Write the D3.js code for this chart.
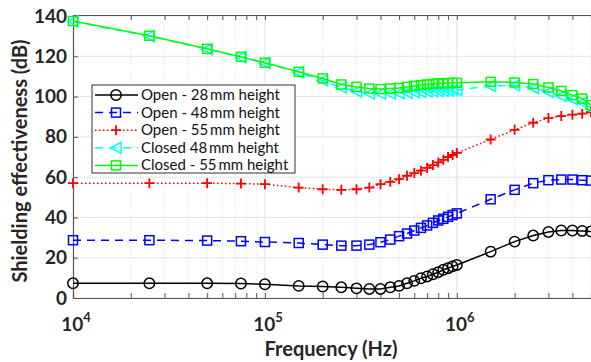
<!DOCTYPE html>
<html>
<head>
<meta charset="utf-8">
<script src="https://cdn.jsdelivr.net/npm/d3@7"></script>
<style>
  body { margin: 0; background: #fff; }
  svg { display: block; font-family: Lato, "Open Sans", sans-serif; }
</style>
</head>
<body>
<svg id="chart" width="591" height="362"></svg>
<script>
// frequencies (Hz)
const freqs = [1e4, 2.5e4, 5e4, 7.5e4, 1e5, 1.5e5, 2e5, 2.5e5, 3e5, 3.5e5, 4e5, 4.5e5, 5e5, 5.5e5, 6e5,
  6.5e5, 7e5, 7.5e5, 8e5, 8.5e5, 9e5, 9.5e5, 1e6, 1.5e6, 2e6, 2.5e6, 3e6, 3.5e6, 4e6, 4.5e6, 5e6];

// shielding effectiveness (dB)
const open28 = [7.3, 7.3, 7.3, 7.2, 6.8, 6.0, 5.7, 5.3, 4.8, 4.5, 4.5, 5.3, 6.0, 7.3, 8.5,
  9.8, 10.7, 11.8, 12.8, 14.0, 14.8, 15.7, 16.4, 23.0, 28.0, 31.0, 32.8, 33.5, 33.5, 33.3, 33.0];
const open48 = [28.7, 28.7, 28.5, 28.2, 27.8, 27.3, 26.5, 26.0, 26.0, 26.5, 27.7, 29.0, 30.7, 32.0, 33.5,
  34.8, 36.0, 37.3, 38.5, 39.3, 40.3, 41.2, 42.0, 49.0, 53.7, 57.0, 58.5, 58.8, 58.8, 58.5, 58.3];
const open55 = [57.0, 57.0, 57.0, 56.8, 56.5, 54.8, 54.0, 53.7, 54.0, 54.8, 56.5, 57.7, 59.0, 60.7, 62.0,
  63.2, 64.6, 66.0, 67.3, 68.6, 70.0, 71.0, 72.0, 78.7, 83.5, 87.0, 89.3, 90.3, 91.0, 91.5, 92.3];
const closed48 = [137.3, 130.0, 123.5, 119.5, 116.6, 112.0, 108.0, 104.5, 102.5, 101.5, 101.5, 101.5, 101.7, 101.9, 102.1,
  102.3, 102.5, 102.6, 102.8, 102.9, 103.0, 103.1, 103.2, 105.3, 105.6, 104.3, 102.3, 100.3, 98.7, 97.0, 94.0];
const closed55 = [137.5, 130.2, 123.7, 119.7, 116.8, 112.3, 109.0, 106.0, 104.8, 104.0, 103.7, 104.0, 104.3, 104.8, 105.3,
  105.7, 106.0, 106.3, 106.5, 106.6, 106.7, 106.8, 106.8, 107.3, 107.0, 106.2, 104.5, 102.8, 100.7, 99.0, 95.7];

const seriesNames = ["Open - 28\u2009mm height", "Open - 48\u2009mm height", "Open - 55\u2009mm height",
  "Closed 48\u2009mm height", "Closed - 55\u2009mm height"];

const yTicks = [0, 20, 40, 60, 80, 100, 120, 140];
const xTicks = [1e4, 1e5, 1e6];

const series = [
  { name: seriesNames[0], values: open28, color: "#000000", dash: null, marker: "circle" },
  { name: seriesNames[1], values: open48, color: "#0000ff", dash: "8,6", marker: "square" },
  { name: seriesNames[2], values: open55, color: "#ff0000", dash: "1.5,2.5", marker: "plus" },
  { name: seriesNames[3], values: closed48, color: "#00ffff", dash: "8,6", marker: "triangle" },
  { name: seriesNames[4], values: closed55, color: "#00ff00", dash: null, marker: "square" }
];

const svg = d3.select("#chart");
const margin = { left: 73, right: 0, top: 16, bottom: 64 };
const W = 591, H = 362;

const x = d3.scaleLog().domain([1e4, 5e6]).range([margin.left, W - margin.right]);
const y = d3.scaleLinear().domain([0, 140]).range([H - margin.bottom, margin.top]);

const plot = svg.append("g");
const textColor = "#262626";

// minor vertical grid
const minor = [];
for (let d = 1e4; d < 5e6; d *= 10) {
  for (let k = 2; k <= 9; k++) if (d * k <= 5e6) minor.push(d * k);
}
plot.append("g").selectAll("line").data(minor).join("line")
  .attr("x1", d => x(d)).attr("x2", d => x(d))
  .attr("y1", y(0)).attr("y2", y(140) - 1)
  .attr("stroke", "#d8d8d8").attr("stroke-width", 0.8).attr("stroke-dasharray", "1,2");

// major grid
plot.append("g").selectAll("line").data(yTicks).join("line")
  .attr("x1", x(1e4)).attr("x2", W)
  .attr("y1", d => y(d)).attr("y2", d => y(d))
  .attr("stroke", "#e3e3e3").attr("stroke-width", 1);
plot.append("g").selectAll("line").data(xTicks.slice(1)).join("line")
  .attr("x1", d => x(d)).attr("x2", d => x(d))
  .attr("y1", y(0)).attr("y2", y(140))
  .attr("stroke", "#e3e3e3").attr("stroke-width", 1);

// axes box
const yAxis = d3.axisLeft(y).tickValues(yTicks).tickSize(-5).tickPadding(6).tickFormat(d3.format("d"));
const gy = svg.append("g").attr("transform", `translate(${x(1e4)},0)`).call(yAxis);
const xAxis = d3.axisBottom(x).tickValues(minor.concat(xTicks)).tickSize(-5).tickFormat("");
const gx = svg.append("g").attr("transform", `translate(0,${y(0)})`).call(xAxis);
const gTop = svg.append("g").attr("transform", `translate(0,${y(140) - 1})`)
  .call(d3.axisTop(x).tickValues(minor.concat(xTicks)).tickSize(-5).tickFormat(""));
[gy, gx, gTop].forEach(g => {
  g.selectAll("path").attr("stroke", "#555").attr("stroke-width", 1.2);
  g.selectAll(".tick line").attr("stroke", "#555");
});
gy.selectAll(".tick text").attr("fill", textColor).attr("font-size", 19).attr("font-weight", "bold")
  .attr("font-family", "Lato, sans-serif");

// x tick labels 10^n
const xl = svg.append("g");
xTicks.forEach(v => {
  const t = xl.append("text").attr("x", x(v) + 3).attr("y", y(0) + 33)
    .attr("text-anchor", "middle").attr("fill", textColor).attr("font-size", 19).attr("font-weight", "bold");
  t.append("tspan").text("10");
  t.append("tspan").attr("dy", -9).attr("font-size", 13).text(Math.round(Math.log10(v)));
});

// axis titles
svg.append("text").attr("x", 331).attr("y", 356).attr("text-anchor", "middle")
  .attr("fill", textColor).attr("font-size", 20).attr("font-weight", "bold").text("Frequency (Hz)");
svg.append("text").attr("transform", `translate(27,161) rotate(-90)`)
  .attr("text-anchor", "middle").attr("fill", textColor).attr("font-size", 20).attr("font-weight", "bold")
  .text("Shielding effectiveness  (dB)");

// markers
function drawMarker(g, type, color, cx, cy) {
  if (type === "circle") {
    g.append("circle").attr("cx", cx).attr("cy", cy).attr("r", 5.2)
      .attr("fill", "none").attr("stroke", color).attr("stroke-width", 1.5);
  } else if (type === "square") {
    g.append("rect").attr("x", cx - 4.5).attr("y", cy - 4.5).attr("width", 9).attr("height", 9)
      .attr("fill", "none").attr("stroke", color).attr("stroke-width", 1.5);
  } else if (type === "plus") {
    g.append("path").attr("d", `M${cx - 5},${cy}H${cx + 5}M${cx},${cy - 5}V${cy + 5}`)
      .attr("stroke", color).attr("stroke-width", 1.8);
  } else if (type === "triangle") {
    g.append("path").attr("d", `M${cx - 5.5},${cy}L${cx + 5},${cy - 5.5}L${cx + 5},${cy + 5.5}Z`)
      .attr("fill", "none").attr("stroke", color).attr("stroke-width", 1.5);
  }
}

svg.append("clipPath").attr("id", "clip").append("rect")
  .attr("x", x(1e4) - 8).attr("y", 0).attr("width", W).attr("height", H);

const line = d3.line().x((d, i) => x(freqs[i])).y(d => y(d));
const lines = svg.append("g").attr("clip-path", "url(#clip)");
series.forEach(s => {
  const g = lines.append("g");
  g.append("path").attr("d", line(s.values)).attr("fill", "none")
    .attr("stroke", s.color).attr("stroke-width", 1.5)
    .attr("stroke-dasharray", s.dash);
  s.values.forEach((v, i) => drawMarker(g, s.marker, s.color, x(freqs[i]), y(v)));
});

// legend
const lg = svg.append("g").attr("transform", "translate(92,85)");
lg.append("rect").attr("x", 0).attr("y", 0).attr("width", 203).attr("height", 88)
  .attr("fill", "#fff").attr("stroke", "#333").attr("stroke-width", 1);
series.forEach((s, i) => {
  const cy = 10 + i * 17.6;
  lg.append("line").attr("x1", 3).attr("x2", 46).attr("y1", cy).attr("y2", cy)
    .attr("stroke", s.color).attr("stroke-width", 1.5).attr("stroke-dasharray", s.dash);
  drawMarker(lg, s.marker, s.color, 24, cy);
  lg.append("text").attr("x", 49).attr("y", cy + 5).attr("fill", "#111")
    .attr("font-size", 15).text(s.name);
});
</script>
</body>
</html>
